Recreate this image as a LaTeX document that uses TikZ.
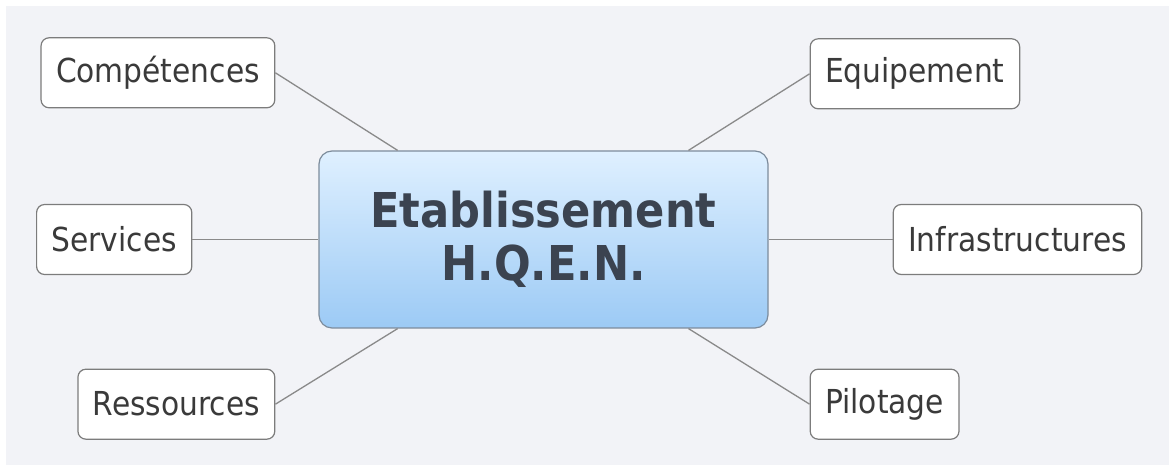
\documentclass[tikz,border=0pt]{standalone}
\usepackage{fontspec}
\setmainfont{DejaVu Sans Condensed}
\usepackage{xcolor}
\usetikzlibrary{positioning,calc}
\definecolor{bg}{HTML}{F2F3F7}
\definecolor{edgegray}{HTML}{8A8A8A}
\definecolor{boxgray}{HTML}{7C7C7C}
\definecolor{hubtop}{HTML}{DFF0FF}
\definecolor{hubbot}{HTML}{9CCAF5}
\definecolor{hubline}{HTML}{7D8C9C}
\definecolor{txt}{HTML}{3A3A3A}
\definecolor{hubtxt}{HTML}{3B4350}

\begin{document}
\begin{tikzpicture}[x=1pt,y=1pt,
  leaf/.style={draw=boxgray,line width=1.2pt,fill=white,rectangle,rounded corners=8pt,
    minimum height=70pt,inner xsep=15pt,text=txt,font=\fontsize{33}{38}\selectfont},
  hubbox/.style={draw=hubline,line width=1.2pt,rectangle,rounded corners=13pt,
    top color=hubtop,bottom color=hubbot,minimum width=449pt,minimum height=177pt,
    align=center,text=hubtxt,font=\fontsize{48}{53}\selectfont\bfseries},
  link/.style={draw=edgegray,line width=1.3pt}]
\useasboundingbox (0,0) rectangle (1169,465);
\fill[white] (0,0) rectangle (1169,465);
\fill[bg] (6,0) rectangle (1169,459);

% Centre
\node[hubbox] (hub) at (543.5,225.5) {Etablissement\\H.Q.E.N.};
\coordinate (tl) at ($(hub.north west)!0.176!(hub.north east)$);
\coordinate (tr) at ($(hub.north west)!0.822!(hub.north east)$);
\coordinate (bl) at ($(hub.south west)!0.176!(hub.south east)$);
\coordinate (br) at ($(hub.south west)!0.822!(hub.south east)$);

% Branches
\node[leaf,above left=42pt and 43pt of hub] (comp) {Compétences};
\node[leaf,left=126pt of hub] (serv) {Services};
\node[leaf,below left=40pt and 43pt of hub] (ress) {Ressources};
\node[leaf,above right=41pt and 41pt of hub] (equi) {Equipement};
\node[leaf,right=124pt of hub] (infra) {Infrastructures};
\node[leaf,below right=40pt and 41pt of hub] (pilo) {Pilotage};

\draw[link] (comp.east) -- (tl);
\draw[link] (serv.east) -- (hub.west);
\draw[link] (ress.east) -- (bl);
\draw[link] (equi.west) -- (tr);
\draw[link] (infra.west) -- (hub.east);
\draw[link] (pilo.west) -- (br);
\end{tikzpicture}
\end{document}
